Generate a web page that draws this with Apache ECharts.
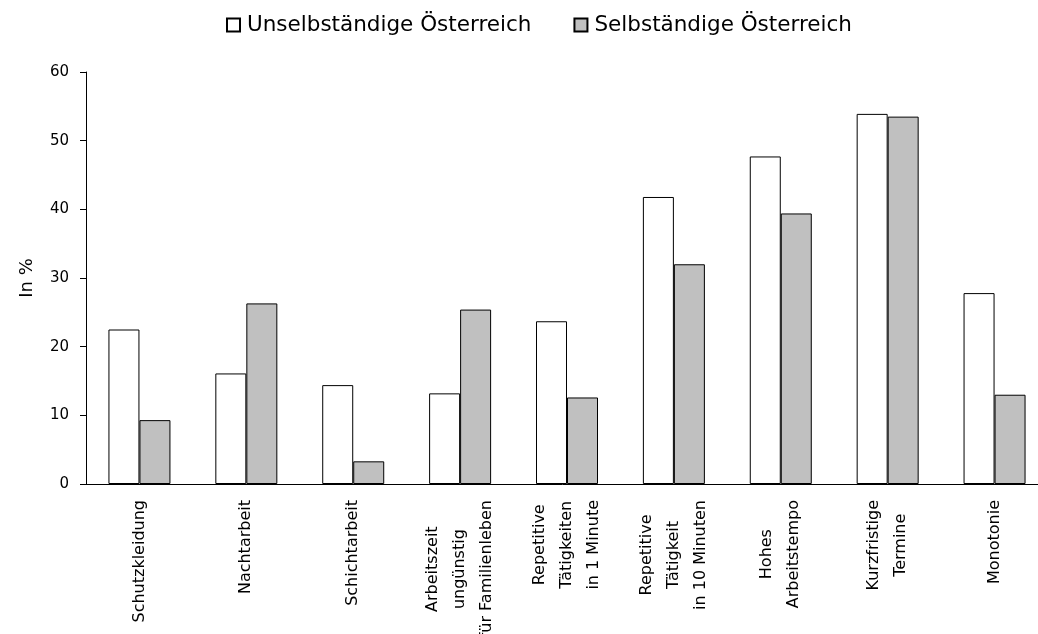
<!DOCTYPE html>
<html>
<head>
<meta charset="utf-8">
<script src="https://cdn.jsdelivr.net/npm/echarts@6/dist/echarts.min.js"></script>
<style>
  html, body { margin: 0; padding: 0; background: #fff; }
  #chart { width: 1038px; height: 634px; }
</style>
</head>
<body>
<div id="chart"></div>
<script>
// Kategorien (Zeilenumbrüche wie im Original)
const categories = [
  'Schutzkleidung',
  'Nachtarbeit',
  'Schichtarbeit',
  'Arbeitszeit\nungünstig\nfür Familienleben',
  'Repetitive\nTätigkeiten\nin 1 Minute',
  'Repetitive\nTätigkeit\nin 10 Minuten',
  'Hohes\nArbeitstempo',
  'Kurzfristige\nTermine',
  'Monotonie'
];
const seriesNames = ['Unselbständige Österreich', 'Selbständige Österreich'];
const unselbstaendig = [22.5, 16.1, 14.4, 13.2, 23.7, 41.8, 47.7, 53.9, 27.8];
const selbstaendig = [9.3, 26.3, 3.3, 25.4, 12.6, 32.0, 39.4, 53.5, 13.0];
const yTicks = { min: 0, max: 60, interval: 10 };

const FONT = 'DejaVu Sans';

const chart = echarts.init(document.getElementById('chart'), null, { renderer: 'canvas' });

const option = {
  backgroundColor: '#fff',
  animation: false,
  textStyle: { fontFamily: FONT, color: '#000' },
  legend: {
    top: 9,
    left: 221,
    itemWidth: 13,
    itemHeight: 13,
    itemGap: 42,
    icon: 'rect',
    textStyle: { fontFamily: FONT, fontSize: 21.5, color: '#000', padding: [0, 0, 0, 2] },
    data: seriesNames
  },
  // Plotbereich reicht wie im Original über den rechten Rand hinaus
  grid: { left: 86, top: 72, width: 962, height: 412, outerBoundsMode: 'none' },
  xAxis: {
    type: 'category',
    data: categories,
    axisLine: { lineStyle: { color: '#000', width: 1 } },
    axisTick: { show: false },
    axisLabel: {
      rotate: 90,
      margin: 16,
      interval: 0,
      color: '#000',
      fontFamily: FONT,
      fontSize: 16,
      lineHeight: 27,
      formatter: v => v.split('\n').map(l => '{c|' + l + '}').join('\n'),
      rich: { c: { align: 'center', fontFamily: FONT, fontSize: 16, lineHeight: 27, color: '#000' } }
    }
  },
  yAxis: {
    type: 'value',
    min: yTicks.min,
    max: yTicks.max,
    interval: yTicks.interval,
    name: 'In %',
    nameLocation: 'middle',
    nameGap: 50,
    nameTextStyle: { fontFamily: FONT, fontSize: 18, color: '#000' },
    axisLine: { show: true, lineStyle: { color: '#000', width: 1 } },
    axisTick: { show: true, length: 6, lineStyle: { color: '#000' } },
    axisLabel: { color: '#000', fontFamily: FONT, fontSize: 15, margin: 17 },
    splitLine: { show: false }
  },
  series: [
    {
      name: seriesNames[0],
      type: 'bar',
      data: unselbstaendig,
      barWidth: 31,
      barGap: '0%',
      itemStyle: { color: '#ffffff', borderColor: '#000', borderWidth: 1 }
    },
    {
      name: seriesNames[1],
      type: 'bar',
      data: selbstaendig,
      barWidth: 31,
      barGap: '0%',
      itemStyle: { color: '#c0c0c0', borderColor: '#000', borderWidth: 1 }
    }
  ]
};

chart.setOption(option);
</script>
</body>
</html>
